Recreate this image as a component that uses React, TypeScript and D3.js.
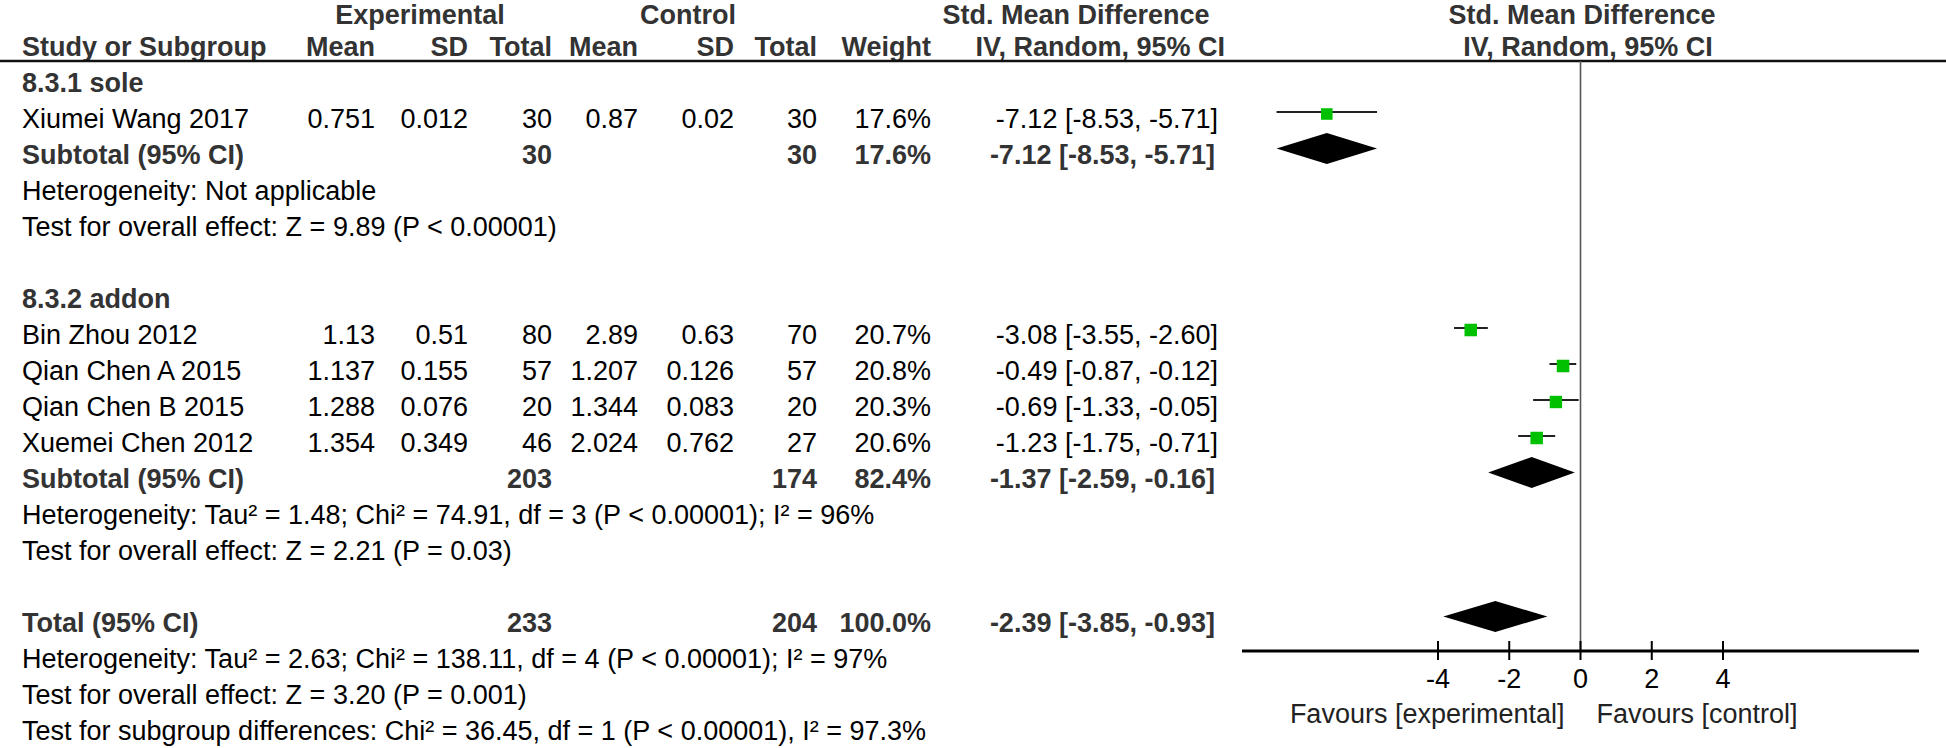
import React from "react";
import * as d3 from "d3";

// ---------- data ----------
const studies = ["Xiumei Wang 2017", "Bin Zhou 2012", "Qian Chen A 2015", "Qian Chen B 2015", "Xuemei Chen 2012"];
const studyGroup = [0, 1, 1, 1, 1];
const expMean = ["0.751", "1.13", "1.137", "1.288", "1.354"];
const expSD = ["0.012", "0.51", "0.155", "0.076", "0.349"];
const expTotal = [30, 80, 57, 20, 46];
const ctlMean = ["0.87", "2.89", "1.207", "1.344", "2.024"];
const ctlSD = ["0.02", "0.63", "0.126", "0.083", "0.762"];
const ctlTotal = [30, 70, 57, 20, 27];
const weights = [17.6, 20.7, 20.8, 20.3, 20.6];
const smd = [-7.12, -3.08, -0.49, -0.69, -1.23];
const ciLow = [-8.53, -3.55, -0.87, -1.33, -1.75];
const ciHigh = [-5.71, -2.6, -0.12, -0.05, -0.71];

const groupNames = ["8.3.1 sole", "8.3.2 addon"];
const groupExpTotal = [30, 203];
const groupCtlTotal = [30, 174];
const groupWeight = [17.6, 82.4];
const groupSmd = [-7.12, -1.37];
const groupLow = [-8.53, -2.59];
const groupHigh = [-5.71, -0.16];
const groupHet = [
  "Heterogeneity: Not applicable",
  "Heterogeneity: Tau² = 1.48; Chi² = 74.91, df = 3 (P < 0.00001); I² = 96%",
];
const groupTest = [
  "Test for overall effect: Z = 9.89 (P < 0.00001)",
  "Test for overall effect: Z = 2.21 (P = 0.03)",
];

const totalExp = 233;
const totalCtl = 204;
const totalWeight = 100.0;
const totalSmd = -2.39;
const totalLow = -3.85;
const totalHigh = -0.93;
const totalNotes = [
  "Heterogeneity: Tau² = 2.63; Chi² = 138.11, df = 4 (P < 0.00001); I² = 97%",
  "Test for overall effect: Z = 3.20 (P = 0.001)",
  "Test for subgroup differences: Chi² = 36.45, df = 1 (P < 0.00001), I² = 97.3%",
];

const axisDomain = [-9.5, 9.5];
const axisTicks = [-4, -2, 0, 2, 4];
const favourLabels = ["Favours [experimental]", "Favours [control]"];

// ---------- layout ----------
const W = 1946;
const H = 748;
const FONT = "'Liberation Sans', Arial, Helvetica, sans-serif";
const FS = 27;
const BOLD_FILL = "#333";
const leftX = 22;
const col = { expMean: 375, expSD: 468, expN: 552, ctlMean: 638, ctlSD: 734, ctlN: 817, weight: 931, ci: 1218 };
const rowY = (i: number) => 92 + 36 * i;
const axisY = 651;
const headerLineY = 61;

const x = d3.scaleLinear().domain(axisDomain).range([1242, 1919]);
const fmt2 = (v: number) => v.toFixed(2);
const fmtW = (w: number) => w.toFixed(1) + "%";
const ciText = (m: number, l: number, h: number) => `${fmt2(m)} [${fmt2(l)}, ${fmt2(h)}]`;
const sqSize = (w: number) => 2.75 * Math.sqrt(w);

type Row =
  | { kind: "group"; text: string }
  | { kind: "study"; idx: number }
  | { kind: "subtotal"; g: number }
  | { kind: "note"; text: string }
  | { kind: "total" };

const rows: { row: Row; i: number }[] = [];
{
  let i = 0;
  groupNames.forEach((g, gi) => {
    rows.push({ row: { kind: "group", text: g }, i: i++ });
    studies.forEach((_, si) => {
      if (studyGroup[si] === gi) rows.push({ row: { kind: "study", idx: si }, i: i++ });
    });
    rows.push({ row: { kind: "subtotal", g: gi }, i: i++ });
    rows.push({ row: { kind: "note", text: groupHet[gi] }, i: i++ });
    rows.push({ row: { kind: "note", text: groupTest[gi] }, i: i++ });
    i++; // blank line
  });
  rows.push({ row: { kind: "total" }, i: i++ });
  totalNotes.forEach((t) => rows.push({ row: { kind: "note", text: t }, i: i++ }));
}

const T = (props: any) => (
  <text fontFamily={FONT} fontSize={FS} {...props} />
);

function Diamond({ lo, mid, hi, y }: { lo: number; mid: number; hi: number; y: number }) {
  const h = 15.5;
  const p = d3.path();
  p.moveTo(x(lo), y);
  p.lineTo(x(mid), y - h);
  p.lineTo(x(hi), y);
  p.lineTo(x(mid), y + h);
  p.closePath();
  return <path d={p.toString()} fill="#000" />;
}

export default function App() {
  return (
    <svg
      width={W}
      height={H}
      viewBox={`0 0 ${W} ${H}`}
      style={{ position: "absolute", left: 0, top: 0, background: "#fff" }}
    >
      <rect width={W} height={H} fill="#fff" />
      {/* header row 1 */}
      <g fontWeight="bold" fill={BOLD_FILL}>
        <T x={420} y={24} textAnchor="middle">Experimental</T>
        <T x={688} y={24} textAnchor="middle">Control</T>
        <T x={1076} y={24} textAnchor="middle">Std. Mean Difference</T>
        <T x={1582} y={24} textAnchor="middle">Std. Mean Difference</T>
        {/* header row 2 */}
        <T x={leftX} y={56}>Study or Subgroup</T>
        <T x={col.expMean} y={56} textAnchor="end">Mean</T>
        <T x={col.expSD} y={56} textAnchor="end">SD</T>
        <T x={col.expN} y={56} textAnchor="end">Total</T>
        <T x={col.ctlMean} y={56} textAnchor="end">Mean</T>
        <T x={col.ctlSD} y={56} textAnchor="end">SD</T>
        <T x={col.ctlN} y={56} textAnchor="end">Total</T>
        <T x={col.weight} y={56} textAnchor="end">Weight</T>
        <T x={1225} y={56} textAnchor="end">IV, Random, 95% CI</T>
        <T x={1588} y={56} textAnchor="middle">IV, Random, 95% CI</T>
      </g>
      <line x1={0} x2={W} y1={headerLineY} y2={headerLineY} stroke="#111" strokeWidth={2.5} />

      {/* zero line */}
      <line x1={x(0)} x2={x(0)} y1={headerLineY} y2={axisY} stroke="#555" strokeWidth={1.6} />

      {rows.map(({ row, i }) => {
        const y = rowY(i);
        if (row.kind === "group") {
          return (
            <T key={i} x={leftX} y={y} fontWeight="bold" fill={BOLD_FILL}>{row.text}</T>
          );
        }
        if (row.kind === "note") {
          return (
            <T key={i} x={leftX} y={y} fill="#000">{row.text}</T>
          );
        }
        if (row.kind === "study") {
          const s = row.idx;
          const sz = sqSize(weights[s]);
          const ly = y - 16;
          return (
            <g key={i} fill="#000">
              <T x={leftX} y={y}>{studies[s]}</T>
              <T x={col.expMean} y={y} textAnchor="end">{expMean[s]}</T>
              <T x={col.expSD} y={y} textAnchor="end">{expSD[s]}</T>
              <T x={col.expN} y={y} textAnchor="end">{expTotal[s]}</T>
              <T x={col.ctlMean} y={y} textAnchor="end">{ctlMean[s]}</T>
              <T x={col.ctlSD} y={y} textAnchor="end">{ctlSD[s]}</T>
              <T x={col.ctlN} y={y} textAnchor="end">{ctlTotal[s]}</T>
              <T x={col.weight} y={y} textAnchor="end">{fmtW(weights[s])}</T>
              <T x={col.ci} y={y} textAnchor="end">{ciText(smd[s], ciLow[s], ciHigh[s])}</T>
              <line x1={x(ciLow[s])} x2={x(ciHigh[s])} y1={ly} y2={ly} stroke="#222" strokeWidth={2} />
              <rect x={x(smd[s]) - sz / 2} y={ly + 2 - sz / 2} width={sz} height={sz} fill="#00c000" />
            </g>
          );
        }
        if (row.kind === "subtotal") {
          const g = row.g;
          return (
            <g key={i} fontWeight="bold" fill={BOLD_FILL}>
              <T x={leftX} y={y}>Subtotal (95% CI)</T>
              <T x={col.expN} y={y} textAnchor="end">{groupExpTotal[g]}</T>
              <T x={col.ctlN} y={y} textAnchor="end">{groupCtlTotal[g]}</T>
              <T x={col.weight} y={y} textAnchor="end">{fmtW(groupWeight[g])}</T>
              <T x={col.ci - 3} y={y} textAnchor="end">{ciText(groupSmd[g], groupLow[g], groupHigh[g])}</T>
              <Diamond lo={groupLow[g]} mid={groupSmd[g]} hi={groupHigh[g]} y={y - 15.5} />
            </g>
          );
        }
        // total
        return (
          <g key={i} fontWeight="bold" fill={BOLD_FILL}>
            <T x={leftX} y={y}>Total (95% CI)</T>
            <T x={col.expN} y={y} textAnchor="end">{totalExp}</T>
            <T x={col.ctlN} y={y} textAnchor="end">{totalCtl}</T>
            <T x={col.weight} y={y} textAnchor="end">{fmtW(totalWeight)}</T>
            <T x={col.ci - 3} y={y} textAnchor="end">{ciText(totalSmd, totalLow, totalHigh)}</T>
            <Diamond lo={totalLow} mid={totalSmd} hi={totalHigh} y={y - 15.5} />
          </g>
        );
      })}

      {/* axis */}
      <line x1={x(axisDomain[0])} x2={x(axisDomain[1])} y1={axisY} y2={axisY} stroke="#000" strokeWidth={3} />
      {axisTicks.map((t) => (
        <g key={t}>
          <line x1={x(t)} x2={x(t)} y1={axisY - 10} y2={axisY + 9} stroke="#000" strokeWidth={2} />
          <T x={x(t)} y={axisY + 37} textAnchor="middle" fill="#000">{String(t)}</T>
        </g>
      ))}
      <T x={x(0) - 16} y={axisY + 72} textAnchor="end" fill="#222">{favourLabels[0]}</T>
      <T x={x(0) + 16} y={axisY + 72} textAnchor="start" fill="#222">{favourLabels[1]}</T>
    </svg>
  );
}
